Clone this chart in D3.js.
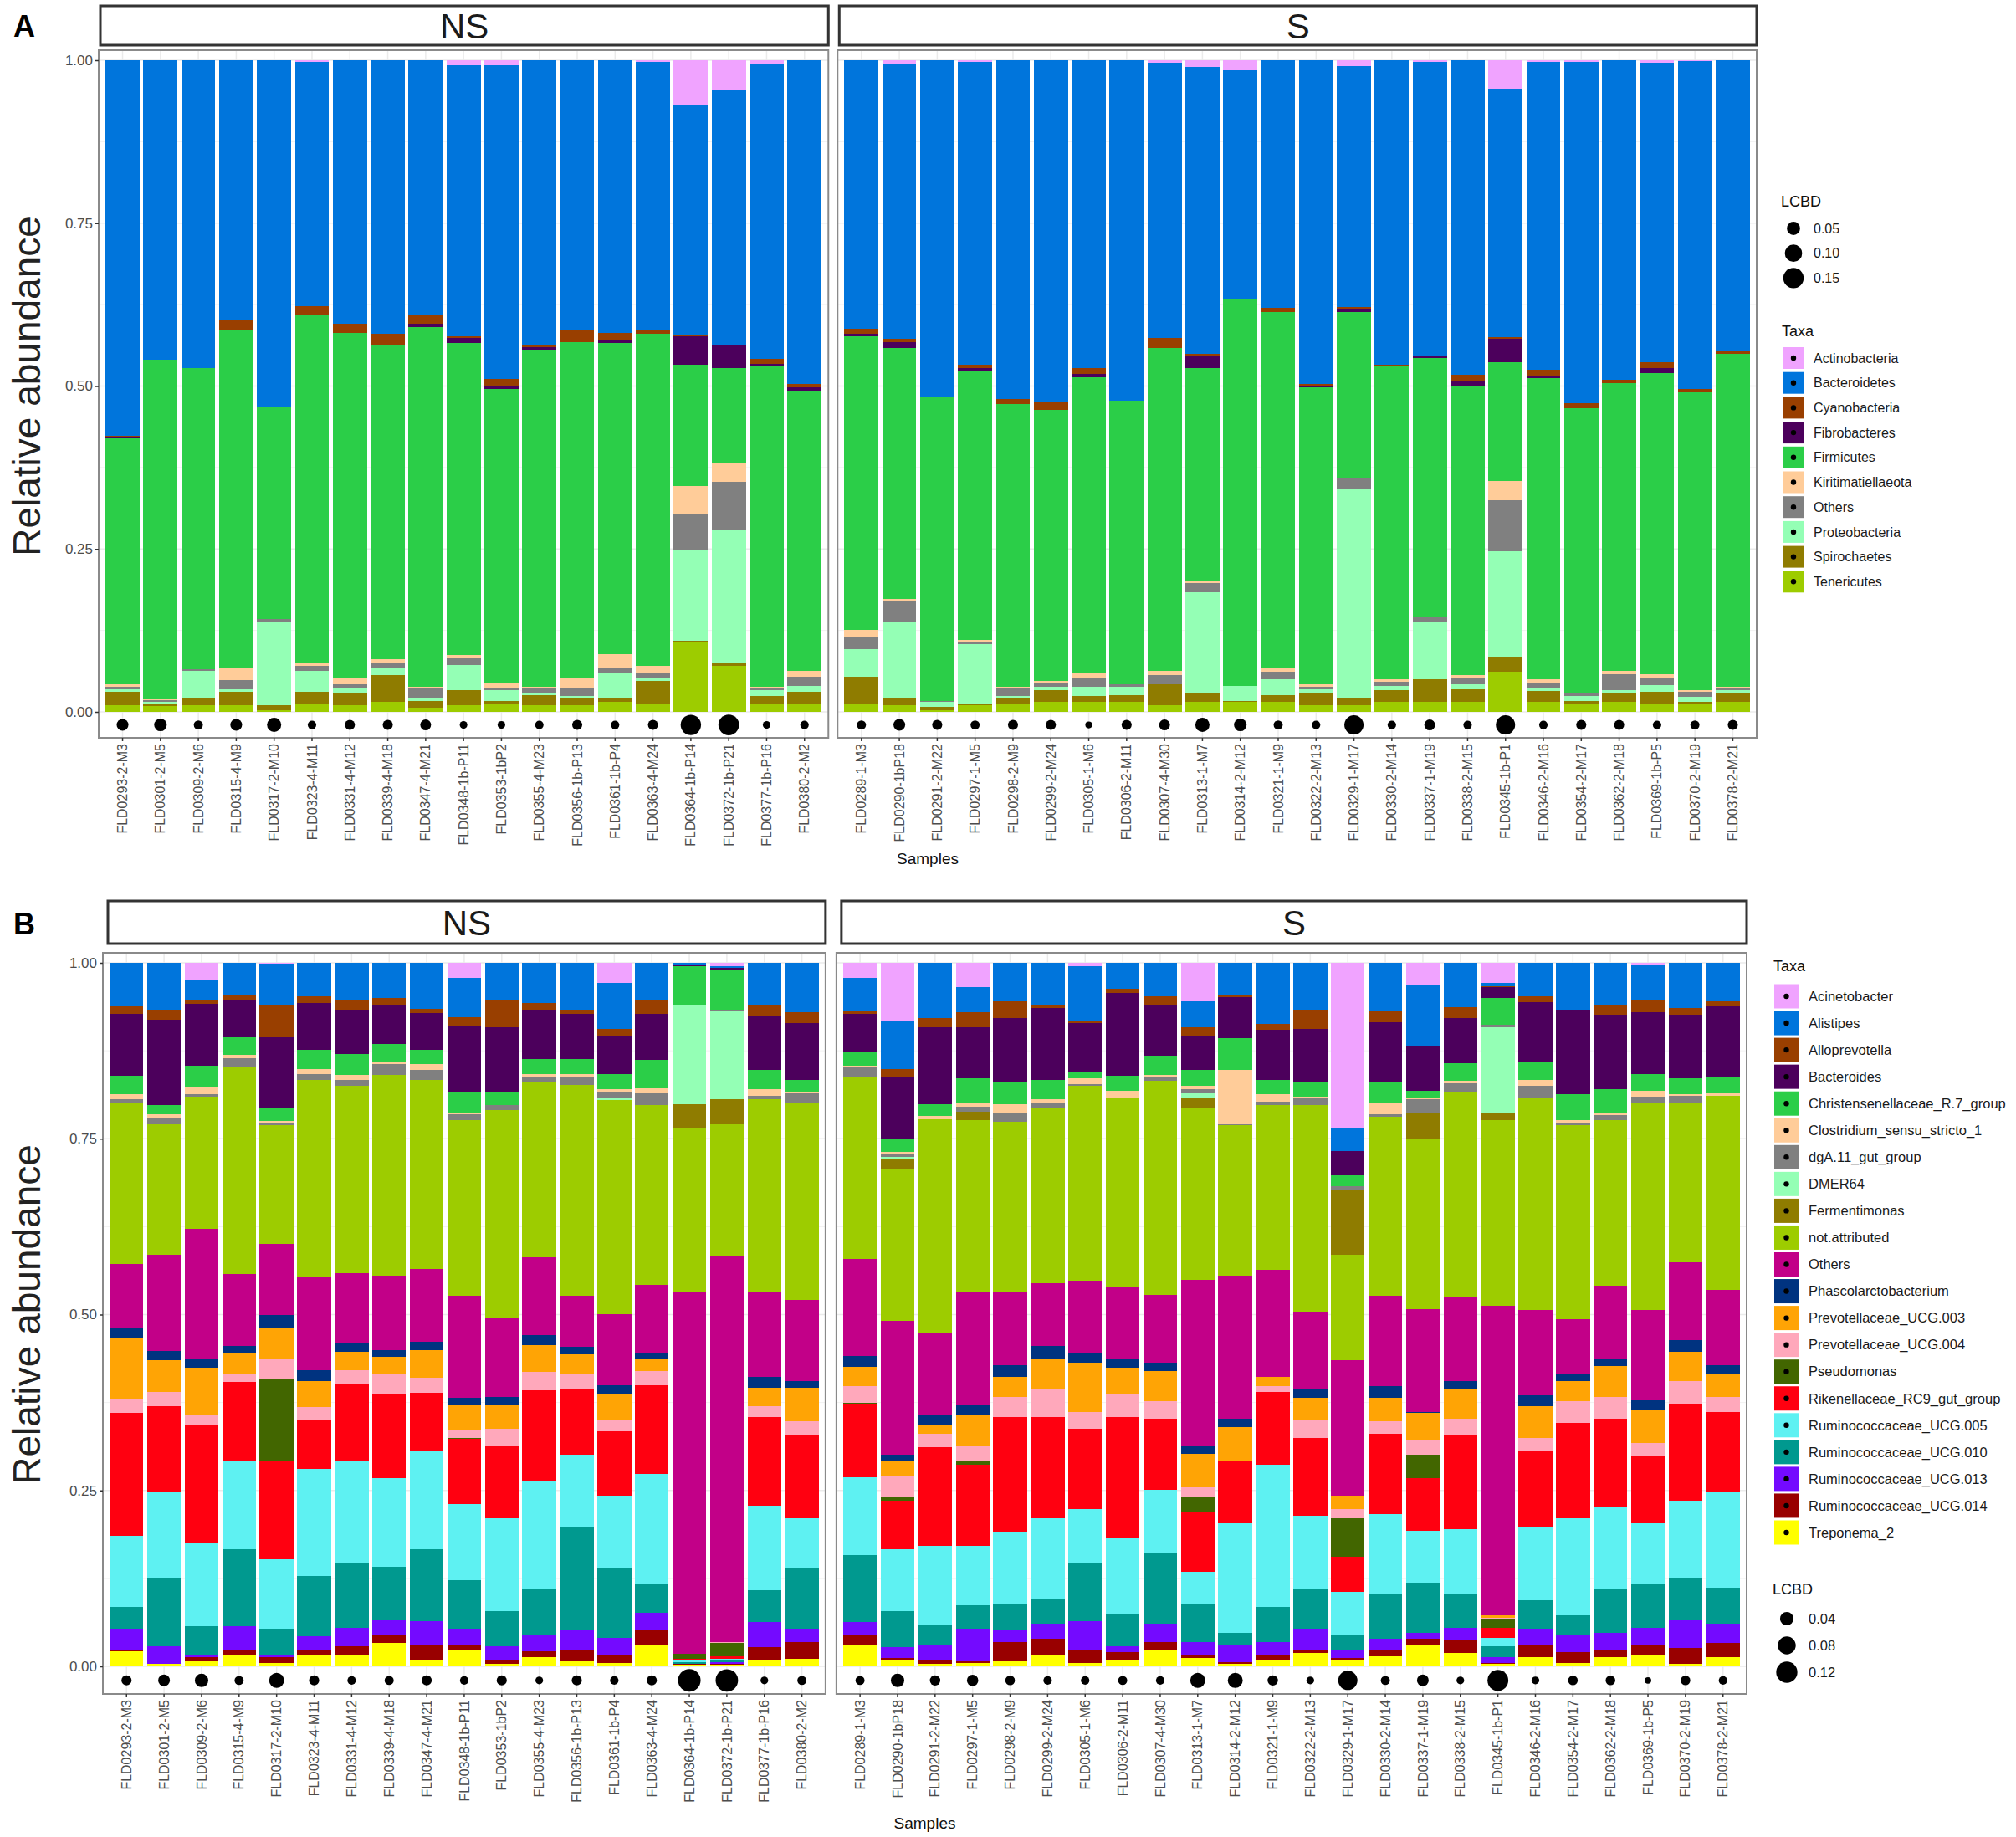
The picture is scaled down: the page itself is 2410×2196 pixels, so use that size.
<!DOCTYPE html>
<html>
<head>
<meta charset="utf-8">
<script src="https://cdn.jsdelivr.net/npm/d3@7"></script>
<style>
  body { margin: 0; background: #fff; }
  text { font-family: "Liberation Sans", Arial, Helvetica, sans-serif; }
</style>
</head>
<body>
<script>
// samples per facet
var samplesNS = ['FLD0293-2-M3','FLD0301-2-M5','FLD0309-2-M6','FLD0315-4-M9','FLD0317-2-M10','FLD0323-4-M11',
  'FLD0331-4-M12','FLD0339-4-M18','FLD0347-4-M21','FLD0348-1b-P11','FLD0353-1bP2','FLD0355-4-M23',
  'FLD0356-1b-P13','FLD0361-1b-P4','FLD0363-4-M24','FLD0364-1b-P14','FLD0372-1b-P21','FLD0377-1b-P16','FLD0380-2-M2'];
var samplesS = ['FLD0289-1-M3','FLD0290-1bP18','FLD0291-2-M22','FLD0297-1-M5','FLD0298-2-M9','FLD0299-2-M24',
  'FLD0305-1-M6','FLD0306-2-M11','FLD0307-4-M30','FLD0313-1-M7','FLD0314-2-M12','FLD0321-1-M9',
  'FLD0322-2-M13','FLD0329-1-M17','FLD0330-2-M14','FLD0337-1-M19','FLD0338-2-M15','FLD0345-1b-P1',
  'FLD0346-2-M16','FLD0354-2-M17','FLD0362-2-M18','FLD0369-1b-P5','FLD0370-2-M19','FLD0378-2-M21'];

var yTicks = [0, 0.25, 0.5, 0.75, 1];

// ---- panel A : phyla (NS samples first, then S) ----
var taxaA = ['Actinobacteria','Bacteroidetes','Cyanobacteria','Fibrobacteres','Firmicutes',
  'Kiritimatiellaeota','Others','Proteobacteria','Spirochaetes','Tenericutes'];
var colorsA = ['#F0A3FF','#0075DC','#993F00','#4C005C','#2BCE48','#FFCC99','#808080','#94FFB5','#8F7C00','#9DCC00'];

var actinobacteria = [0,0,0,0,0,.003,0,0,0,.008,.008,0,0,0,.003,.069,.046,.006,0,
  0,.006,0,.003,0,0,0,0,.004,.010,.015,0,0,.009,0,.003,0,.044,.003,.003,0,.004,.001,0];
var bacteroidetes = [.576,.459,.473,.398,.533,.375,.405,.420,.391,.416,.481,.436,.415,.418,.410,.353,.391,.452,.497,
  .412,.421,.517,.464,.520,.525,.473,.522,.422,.440,.351,.380,.497,.370,.467,.451,.483,.381,.472,.523,.491,.459,.504,.447];
var cyanobacteria = [.002,0,0,.015,0,.012,.013,.018,.014,.002,.012,.004,.017,.012,.007,.001,0,.008,.005,
  .008,.006,0,.006,.008,.012,.008,0,.016,.004,0,.006,.002,.002,.001,.001,.009,.002,.010,.008,.004,.009,.005,.004];
var fibrobacteres = [.001,0,0,0,0,0,0,0,.004,.008,.004,.004,0,.004,0,.044,.036,.002,.006,
  .003,.009,0,.005,0,0,.005,0,0,.019,0,0,.003,.005,.002,.002,.007,.037,.003,0,0,.008,0,0];
var firmicutes = [.379,.522,.461,.519,.324,.534,.531,.481,.552,.479,.451,.517,.515,.478,.510,.187,.145,.494,.429,
  .451,.385,.466,.412,.434,.416,.454,.436,.495,.325,.594,.547,.455,.255,.480,.397,.444,.182,.462,.436,.442,.462,.457,.511];
var kiritimatiellaeota = [.004,.001,0,.019,0,.006,.009,.005,.003,.004,.007,.003,.016,.020,.011,.042,.029,.002,.009,
  .011,.004,0,.002,.002,.002,.008,0,.007,.004,0,.005,.005,0,.004,0,.005,.029,.005,.001,.005,.005,.002,.002];
var othersA = [.003,.002,.003,.014,.004,.007,.006,.008,.015,.011,.004,.006,.013,.009,.008,.056,.073,.003,.014,
  .019,.030,.001,.004,.012,.007,.014,.004,.013,.014,0,.012,.003,.018,.006,.007,.010,.079,.008,.004,.024,.012,.008,.003];
var proteobacteria = [.004,.004,.043,.004,.129,.032,.007,.011,.004,.039,.016,.004,.003,.037,.003,.139,.205,.009,.009,
  .042,.117,.008,.091,.004,.005,.014,.012,.001,.156,.023,.024,.006,.319,.007,.089,.007,.161,.005,.008,.005,.010,.007,.003];
var spirochaetes = [.021,.003,.010,.021,.007,.018,.019,.041,.010,.023,.004,.016,.011,.006,.035,.003,.004,.011,.018,
  .041,.012,.005,.003,.007,.017,.008,.010,.032,.012,.001,.010,.019,.012,.017,.034,.019,.024,.016,.004,.013,.018,.003,.014];
var tenericutes = [.010,.009,.010,.010,.003,.013,.010,.016,.007,.010,.013,.010,.010,.016,.013,.106,.071,.013,.013,
  .013,.010,.003,.010,.013,.016,.016,.016,.010,.016,.016,.016,.010,.010,.016,.016,.016,.061,.016,.013,.016,.013,.013,.016];
var lcbdA = [.037,.044,.020,.037,.060,.017,.025,.025,.030,.014,.014,.017,.025,.017,.025,.150,.155,.014,.017,
  .020,.037,.025,.020,.025,.025,.012,.025,.030,.060,.044,.020,.017,.130,.017,.030,.017,.130,.017,.025,.025,.017,.020,.025];
var lcbdBreaksA = [0.05, 0.10, 0.15];

// ---- panel B : genera ----
var taxaB = ['Acinetobacter','Alistipes','Alloprevotella','Bacteroides','Christensenellaceae_R.7_group',
  'Clostridium_sensu_stricto_1','dgA.11_gut_group','DMER64','Fermentimonas','not.attributed','Others',
  'Phascolarctobacterium','Prevotellaceae_UCG.003','Prevotellaceae_UCG.004','Pseudomonas',
  'Rikenellaceae_RC9_gut_group','Ruminococcaceae_UCG.005','Ruminococcaceae_UCG.010',
  'Ruminococcaceae_UCG.013','Ruminococcaceae_UCG.014','Treponema_2'];
var colorsB = ['#F0A3FF','#0075DC','#993F00','#4C005C','#2BCE48','#FFCC99','#808080','#94FFB5','#8F7C00',
  '#9DCC00','#C20088','#003380','#FFA405','#FFA8BB','#426600','#FF0010','#5EF1F2','#00998F','#740AFF',
  '#990000','#FFFF00'];

var acinetobacter = [0,0,.025,0,.001,0,0,0,0,.021,0,0,0,.029,0,0,.005,0,0,
  .021,.082,0,.035,0,0,.005,0,0,.055,0,0,0,.234,0,.032,0,.029,0,0,0,.004,0,0];
var alistipes = [.062,.066,.028,.046,.059,.048,.052,.050,.065,.056,.052,.057,.067,.065,.052,.003,.002,.060,.070,
  .047,.069,.079,.035,.055,.059,.077,.037,.048,.037,.045,.087,.066,.033,.068,.087,.063,.004,.048,.067,.060,.050,.064,.055];
var alloprevotella = [.010,.015,.005,.006,.046,.009,.014,.010,.006,.013,.040,.009,.005,.010,.020,0,0,.016,.016,
  .004,.011,.013,.021,.024,.005,.004,.006,.011,.012,.004,.008,.028,0,.016,0,.016,.002,.008,0,.014,.016,.010,.007];
var bacteroides = [.088,.121,.088,.054,.101,.067,.064,.055,.053,.094,.092,.071,.065,.054,.066,.002,.004,.076,.080,
  .055,.089,.109,.073,.091,.102,.068,.117,.073,.048,.058,.071,.075,.035,.086,.063,.064,.015,.086,.120,.105,.088,.090,.100];
var christensenellaceae = [.027,.013,.030,.025,.018,.027,.029,.025,.020,.029,.018,.021,.021,.022,.040,.054,.055,.028,.017,
  .019,.018,.017,.034,.031,.028,.010,.022,.027,.023,.045,.021,.021,.015,.029,.009,.025,.038,.024,.037,.035,.024,.023,.023];
var clostridium = [.007,.006,.011,.005,.002,.007,.008,.004,.008,.002,0,.004,.005,.004,.007,0,0,.009,.003,
  .002,.002,.004,.006,.012,.004,.008,.009,.003,.004,.077,.010,.003,0,.016,.003,.003,0,.009,.003,.003,.008,.002,.004];
var dgA11 = [.004,.008,.003,.011,.004,.009,.008,.015,.015,.009,.007,.008,.011,.009,.017,0,.002,.005,.013,
  .014,.005,0,.008,.013,.009,.003,0,.006,.007,.002,.005,.009,.005,.004,.020,.012,.003,.016,.004,.006,.009,.009,0];
var dmer64 = [0,0,0,0,0,0,0,0,0,0,0,0,0,.002,0,.142,.126,0,0,
  0,.002,0,0,0,0,0,0,0,.005,0,0,0,0,0,0,0,.123,0,0,0,0,0,0];
var fermentimonas = [0,0,0,0,0,0,0,0,0,0,0,0,0,0,0,.035,.036,0,0,
  0,.016,0,.012,0,0,0,0,0,.016,0,0,0,.093,0,.037,0,.009,0,0,0,0,0,0];
var notAttributed = [.230,.186,.188,.295,.168,.280,.266,.286,.268,.249,.296,.249,.299,.304,.256,.232,.186,.273,.280,
  .259,.215,.305,.245,.241,.248,.277,.269,.304,.244,.214,.234,.294,.150,.254,.241,.291,.265,.302,.276,.236,.294,.228,.276];
var othersB = [.090,.137,.184,.103,.102,.132,.099,.105,.104,.145,.112,.110,.073,.101,.097,.514,.549,.121,.116,
  .138,.190,.115,.159,.105,.089,.103,.103,.096,.236,.203,.152,.109,.192,.129,.146,.121,.440,.122,.078,.104,.129,.110,.107];
var phascolarctobacterium = [.015,.013,.013,.010,.017,.016,.013,.010,.011,.010,.011,.014,.011,.012,.008,0,0,.016,.009,
  .015,.010,.016,.015,.016,.019,.013,.012,.012,.011,.012,0,.013,0,.016,.002,.012,0,.015,.010,.010,.014,.017,.013];
var prevotellaceae003 = [.088,.045,.068,.029,.045,.036,.026,.025,.040,.035,.034,.039,.027,.038,.017,0,0,.026,.048,
  .028,.020,.012,.044,.029,.044,.070,.037,.043,.048,.049,.014,.032,.020,.034,.038,.041,.003,.045,.028,.044,.047,.042,.032];
var prevotellaceae004 = [.019,.020,.014,.012,.028,.019,.019,.027,.021,.012,.025,.026,.022,.016,.020,0,.002,.016,.020,
  .023,.031,.019,.021,.029,.039,.024,.034,.025,.013,0,.008,.025,.013,.018,.021,.023,.001,.018,.031,.031,.019,.032,.021];
var pseudomonas = [0,0,0,0,.118,0,0,0,0,.002,0,0,0,0,0,.007,.019,0,0,
  .002,.004,0,.005,0,0,0,0,0,.021,0,0,0,.054,0,.034,0,.013,0,0,0,0,0,0];
var rikenellaceae = [.174,.122,.167,.111,.139,.069,.109,.120,.082,.092,.103,.129,.093,.091,.127,.001,.003,.126,.117,
  .104,.070,.140,.116,.163,.144,.115,.171,.101,.086,.088,.104,.111,.050,.114,.074,.134,.015,.110,.136,.125,.095,.138,.114];
var rumino005 = [.102,.122,.119,.127,.098,.153,.146,.126,.140,.109,.131,.154,.104,.104,.155,.004,.003,.120,.071,
  .111,.088,.112,.084,.103,.114,.077,.109,.091,.045,.156,.202,.103,.061,.112,.074,.091,.011,.103,.138,.116,.085,.109,.136];
var rumino010 = [.031,.098,.041,.109,.037,.085,.092,.076,.103,.068,.050,.065,.146,.098,.042,.002,.002,.045,.086,
  .095,.051,.028,.033,.037,.035,.082,.046,.099,.054,.016,.050,.057,.021,.065,.072,.049,.016,.041,.027,.064,.063,.059,.051];
var rumino013 = [.030,.024,.003,.033,.004,.020,.026,.021,.033,.023,.020,.023,.028,.025,.025,.001,.002,.036,.020,
  .019,.015,.022,.047,.016,.022,.040,.008,.027,.020,.025,.017,.030,.012,.015,.008,.018,.008,.022,.025,.024,.024,.041,.028];
var rumino014 = [.002,.001,.006,.008,.008,.006,.012,.012,.022,.008,.006,.008,.016,.011,.020,.001,.002,.018,.023,
  .013,.003,.005,.002,.028,.022,.019,.011,.010,.003,.003,.008,.005,.003,.010,.008,.018,.001,.018,.015,.010,.015,.023,.020];
var treponema2 = [.021,.003,.007,.016,.005,.017,.017,.033,.009,.023,.003,.013,.007,.005,.031,.002,.002,.009,.011,
  .031,.009,.004,.005,.007,.017,.005,.009,.024,.012,.003,.009,.019,.009,.014,.031,.019,.004,.013,.005,.013,.016,.003,.013];
var lcbdB = [.021,.029,.040,.017,.052,.021,.015,.017,.021,.015,.021,.013,.021,.015,.021,.140,.138,.013,.017,
  .017,.040,.022,.027,.019,.015,.015,.017,.015,.052,.052,.022,.013,.095,.017,.029,.013,.116,.013,.019,.019,.011,.019,.015];
var lcbdBreaksB = [0.04, 0.08, 0.12];

var svg = d3.select('body').append('svg')
  .attr('width', 2410)
  .attr('height', 2196)
  .style('background', '#ffffff');

function drawFigure(o) {
  var all = samplesNS.concat(samplesS);
  var rows = all.map(function(s, i) {
    var r = { sample: s, lcbd: o.lcbd[i] };
    o.taxa.forEach(function(t, k) { r[t] = o.series[k][i]; });
    return r;
  });
  // first level sits on top of the stack, like ggplot
  var stacked = d3.stack().keys(o.taxa.slice().reverse())(rows);
  var color = d3.scaleOrdinal().domain(o.taxa).range(o.colors);
  var y = d3.scaleLinear().domain([0, 1]).range([o.zeroY, o.oneY]);

  // ggplot-like area size scale
  var sizeT = d3.scaleLinear().domain(o.sizeDomain).range([0, 1]).clamp(true);
  var sizeR = d3.scaleLinear().domain([0, 1]).range(o.sizeRange);
  var radius = function(v) { return sizeR(Math.sqrt(sizeT(v))); };

  var unit = (o.right - o.left - o.gap) / (samplesNS.length + samplesS.length + 0.52);
  var nsRight = o.left + (samplesNS.length + 0.26) * unit;
  var facets = [
    { name: 'NS', samples: samplesNS, x0: o.left, x1: nsRight },
    { name: 'S', samples: samplesS, x0: nsRight + o.gap, x1: o.right }
  ];

  var g = svg.append('g');

  // panel tag
  g.append('text').attr('x', 16).attr('y', o.tagY)
    .attr('font-size', 36).attr('font-weight', 'bold').attr('fill', '#000').text(o.tag);

  facets.forEach(function(f, fi) {
    var x = d3.scaleBand().domain(f.samples).range([f.x0, f.x1]).paddingInner(0.1).paddingOuter(0.18);
    var pg = g.append('g');

    // strip
    pg.append('rect')
      .attr('x', f.x0 + o.stripInset).attr('y', o.stripTop)
      .attr('width', f.x1 - f.x0 - o.stripInset).attr('height', o.stripH)
      .attr('fill', '#fff').attr('stroke', '#333').attr('stroke-width', 3);
    pg.append('text')
      .attr('x', (f.x0 + o.stripInset + f.x1) / 2).attr('y', o.stripTop + o.stripH / 2)
      .attr('dy', '0.36em').attr('text-anchor', 'middle')
      .attr('font-size', 42).attr('fill', '#1a1a1a').text(f.name);

    // grid
    var minor = [0.125, 0.375, 0.625, 0.875];
    pg.append('g').selectAll('line').data(minor).enter().append('line')
      .attr('x1', f.x0).attr('x2', f.x1)
      .attr('y1', function(d) { return y(d); }).attr('y2', function(d) { return y(d); })
      .attr('stroke', '#f2f2f2').attr('stroke-width', 1);
    pg.append('g').selectAll('line').data(yTicks).enter().append('line')
      .attr('x1', f.x0).attr('x2', f.x1)
      .attr('y1', function(d) { return y(d); }).attr('y2', function(d) { return y(d); })
      .attr('stroke', '#ebebeb').attr('stroke-width', 1.5);
    pg.append('g').selectAll('line').data(f.samples).enter().append('line')
      .attr('x1', function(d) { return x(d) + x.bandwidth() / 2; })
      .attr('x2', function(d) { return x(d) + x.bandwidth() / 2; })
      .attr('y1', o.panelTop).attr('y2', o.panelBottom)
      .attr('stroke', '#ebebeb').attr('stroke-width', 1.5);

    // stacked bars
    pg.append('g').selectAll('g')
      .data(stacked)
      .enter().append('g')
      .attr('fill', function(d) { return color(d.key); })
      .selectAll('rect')
      .data(function(d) { return d.filter(function(p) { return x(p.data.sample) !== undefined; }); })
      .enter().append('rect')
      .attr('x', function(p) { return x(p.data.sample); })
      .attr('width', x.bandwidth())
      .attr('y', function(p) { return y(p[1]); })
      .attr('height', function(p) { return Math.max(0, y(p[0]) - y(p[1])); })
      .attr('shape-rendering', 'crispEdges');

    // LCBD dots
    pg.append('g').selectAll('circle')
      .data(rows.filter(function(r) { return x(r.sample) !== undefined; }))
      .enter().append('circle')
      .attr('cx', function(r) { return x(r.sample) + x.bandwidth() / 2; })
      .attr('cy', y(-0.02))
      .attr('r', function(r) { return radius(r.lcbd); })
      .attr('fill', '#000');

    // panel border
    pg.append('rect')
      .attr('x', f.x0).attr('y', o.panelTop)
      .attr('width', f.x1 - f.x0).attr('height', o.panelBottom - o.panelTop)
      .attr('fill', 'none').attr('stroke', '#8a8a8a').attr('stroke-width', 2);

    // x axis
    var xa = pg.append('g')
      .attr('transform', 'translate(0,' + o.panelBottom + ')')
      .call(d3.axisBottom(x).tickSize(4).tickSizeOuter(0));
    xa.select('.domain').remove();
    xa.selectAll('line').attr('stroke', '#333').attr('stroke-width', 1.5);
    xa.selectAll('text')
      .attr('transform', 'rotate(-90)')
      .attr('text-anchor', 'end')
      .attr('x', -7).attr('y', 0).attr('dy', '0.35em')
      .attr('font-size', 16).attr('fill', '#4d4d4d')
      .style('font-family', '"Liberation Sans", Arial, sans-serif');

    // y axis on the first facet only
    if (fi === 0) {
      var ya = pg.append('g')
        .attr('transform', 'translate(' + f.x0 + ',0)')
        .call(d3.axisLeft(y).tickValues(yTicks).tickFormat(d3.format('.2f')).tickSize(4));
      ya.select('.domain').remove();
      ya.selectAll('line').attr('stroke', '#333').attr('stroke-width', 1.5);
      ya.selectAll('text').attr('font-size', 17).attr('fill', '#4d4d4d').attr('x', -7)
        .style('font-family', '"Liberation Sans", Arial, sans-serif');
    }
  });

  // axis titles
  g.append('text')
    .attr('transform', 'translate(48,' + ((o.zeroY + o.oneY) / 2) + ') rotate(-90)')
    .attr('text-anchor', 'middle').attr('font-size', 46).attr('fill', '#222')
    .text('Relative abundance');
  g.append('text')
    .attr('x', (o.left + o.right) / 2).attr('y', o.samplesY)
    .attr('text-anchor', 'middle').attr('font-size', 19).attr('fill', '#111')
    .text('Samples');

  // legends
  var lg = g.append('g');
  var lt = o.legend.taxa;
  lg.append('text').attr('x', lt.x - 1).attr('y', lt.titleY).attr('font-size', 18).attr('fill', '#111').text('Taxa');
  var keys = lg.selectAll('g.key').data(o.taxa).enter().append('g')
    .attr('transform', function(d, i) { return 'translate(' + lt.x + ',' + (lt.firstY + i * lt.pitch) + ')'; });
  keys.append('rect')
    .attr('x', 0).attr('y', -lt.size / 2).attr('width', lt.size).attr('height', lt.size)
    .attr('fill', function(d) { return color(d); });
  keys.append('circle').attr('cx', lt.size / 2).attr('cy', 0).attr('r', 3.2).attr('fill', '#000');
  keys.append('text').attr('x', lt.labelX - lt.x).attr('y', 0).attr('dy', '0.35em')
    .attr('font-size', lt.font).attr('fill', '#1a1a1a').text(function(d) { return d; });

  var ll = o.legend.lcbd;
  lg.append('text').attr('x', ll.x - 1).attr('y', ll.titleY).attr('font-size', 18).attr('fill', '#111').text('LCBD');
  var sk = lg.selectAll('g.size').data(o.breaks).enter().append('g')
    .attr('transform', function(d, i) { return 'translate(' + ll.dotX + ',' + (ll.firstY + i * ll.pitch) + ')'; });
  sk.append('circle').attr('r', function(d) { return radius(d); }).attr('fill', '#000');
  sk.append('text').attr('x', ll.labelX - ll.dotX).attr('dy', '0.35em')
    .attr('font-size', lt.font).attr('fill', '#1a1a1a').text(function(d) { return d3.format('.2f')(d); });
}

drawFigure({
  tag: 'A', tagY: 44,
  taxa: taxaA, colors: colorsA,
  series: [actinobacteria, bacteroidetes, cyanobacteria, fibrobacteres, firmicutes,
    kiritimatiellaeota, othersA, proteobacteria, spirochaetes, tenericutes],
  lcbd: lcbdA, breaks: lcbdBreaksA,
  sizeDomain: [0.01, 0.16], sizeRange: [3, 12.5],
  left: 118, right: 2100, gap: 11,
  stripTop: 7, stripH: 47, stripInset: 2, panelTop: 60, panelBottom: 882,
  zeroY: 851, oneY: 72, samplesY: 1033,
  legend: {
    lcbd: { x: 2130, titleY: 247, dotX: 2144, firstY: 273, pitch: 29.7, labelX: 2168 },
    taxa: { x: 2131, titleY: 402, firstY: 428, pitch: 29.7, size: 26, labelX: 2168, font: 16 }
  }
});

drawFigure({
  tag: 'B', tagY: 1117,
  taxa: taxaB, colors: colorsB,
  series: [acinetobacter, alistipes, alloprevotella, bacteroides, christensenellaceae, clostridium,
    dgA11, dmer64, fermentimonas, notAttributed, othersB, phascolarctobacterium, prevotellaceae003,
    prevotellaceae004, pseudomonas, rikenellaceae, rumino005, rumino010, rumino013, rumino014, treponema2],
  lcbd: lcbdB, breaks: lcbdBreaksB,
  sizeDomain: [0.01, 0.14], sizeRange: [3, 13.5],
  left: 123, right: 2088, gap: 13,
  stripTop: 1077, stripH: 51, stripInset: 6, panelTop: 1139, panelBottom: 2025,
  zeroY: 1992, oneY: 1151, samplesY: 2186,
  legend: {
    taxa: { x: 2121, titleY: 1161, firstY: 1191, pitch: 32.05, size: 29, labelX: 2162, font: 16.5 },
    lcbd: { x: 2120, titleY: 1906, dotX: 2136, firstY: 1935, pitch: 32, labelX: 2162 }
  }
});
</script>
</body>
</html>
